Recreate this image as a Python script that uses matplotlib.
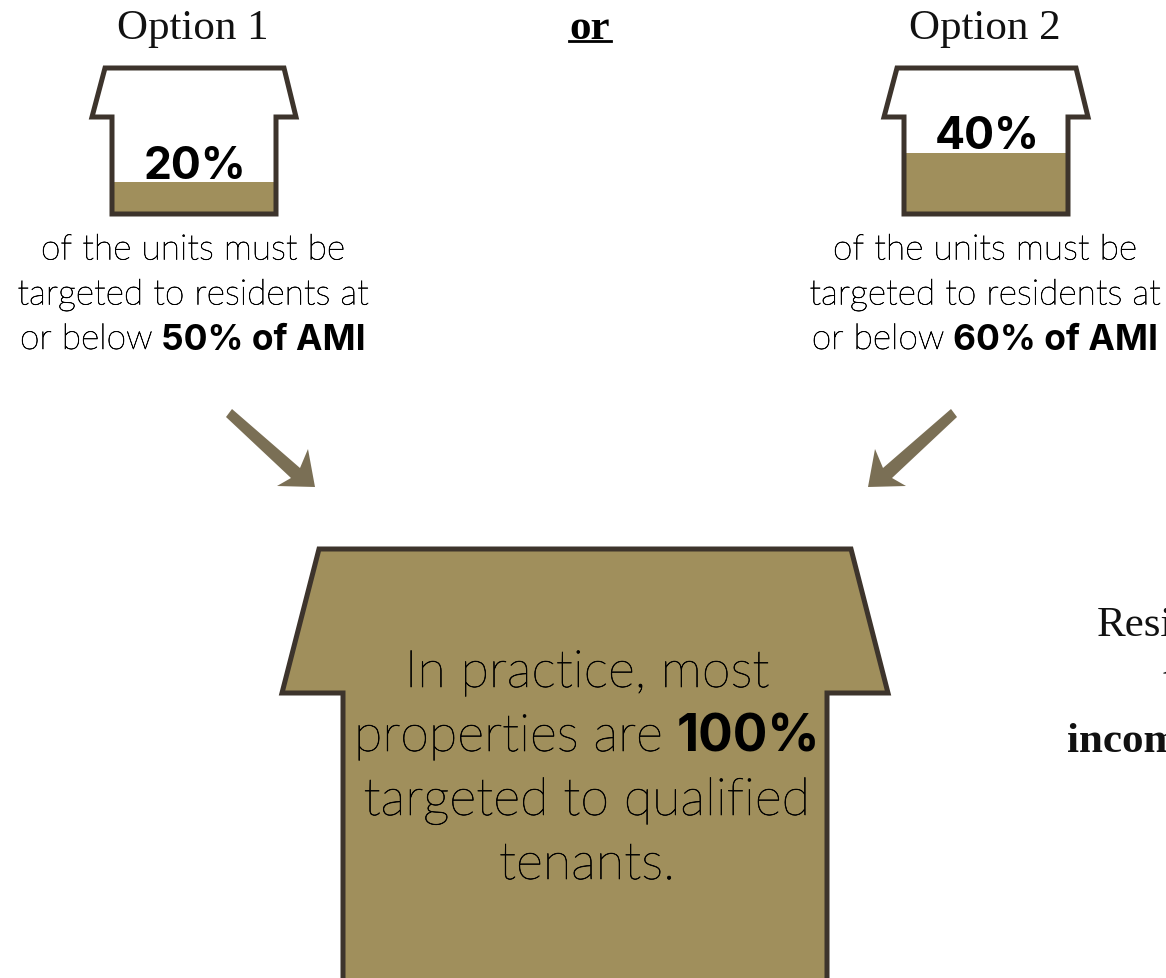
import matplotlib
matplotlib.use('Agg')
import matplotlib.pyplot as plt
import matplotlib.patheffects as pe
from matplotlib.patches import Polygon

option_labels = ['Option 1', 'Option 2']
option_shares = [20, 40]
ami_limits = ['50% of AMI', '60% of AMI']
big_share = 100
big_lines = [('In practice, most', ''), ('properties are ', '100%'), ('targeted to qualified', ''), ('tenants.', '')]
side_lines = [('Resi', 'normal'), ('t', 'normal'), ('incom', 'bold')]

FILL = '#A08F5C'
EDGE = '#3D342C'
ARROW = '#7A6F55'
SANS = 'Lato'
BOLD = 'Inter'
SERIF = 'Liberation Serif'

fig = plt.figure(figsize=(11.66, 9.79), dpi=100)
ax = fig.add_axes([0, 0, 1, 1])
ax.set_xlim(0, 1166)
ax.set_ylim(978, -1)
ax.axis('off')


def house_outline(top_l, top_r, eave_l, eave_r, body_l, body_r, top_y, eave_y, bottom_y):
    return [(top_l, top_y), (top_r, top_y), (eave_r, eave_y), (body_r, eave_y), (body_r, bottom_y),
            (body_l, bottom_y), (body_l, eave_y), (eave_l, eave_y)]


def mixed_line(x, y, light, bold, size, bold_size):
    # centred line with a light part followed by a bold part
    rend = fig.canvas.get_renderer()
    t1 = ax.text(x, y, light.rstrip(), fontsize=size, family=SANS, weight='light', va='baseline', color='black',
                 path_effects=[pe.withStroke(linewidth=0.45, foreground='black')])
    if not bold:
        t1.set_ha('center')
        return
    space = size * 0.36
    t2 = ax.text(x, y, bold, fontsize=bold_size, family=BOLD, weight='bold', va='baseline', color='black')
    w1 = t1.get_window_extent(rend).width
    w2 = t2.get_window_extent(rend).width
    left = x - (w1 + space + w2) / 2
    t1.set_x(left)
    t2.set_x(left + w1 + space)


for i in range(2):
    dx = 792 * i
    share = option_shares[i]
    ax.text(193 + dx, 38, option_labels[i], fontsize=31, family=SERIF, ha='center', va='baseline', color='#111111')
    ax.add_patch(Polygon([(112 + dx, 211.5 - share * 1.45), (276 + dx, 211.5 - share * 1.45), (276 + dx, 214), (112 + dx, 214)],
                         facecolor=FILL, edgecolor='none', zorder=1))
    ax.add_patch(Polygon(house_outline(105 + dx, 284 + dx, 92 + dx, 296 + dx, 112 + dx, 276 + dx, 68, 117, 214),
                         closed=True, facecolor='none', edgecolor=EDGE, linewidth=3.6, joinstyle='miter', zorder=2))
    ax.text(195 + dx, 178 - (i * 30), '%d%%' % share, fontsize=32, family=BOLD, weight='bold', ha='center', va='baseline', color='black', zorder=3)
    mixed_line(193 + dx, 259.5, 'of the units must be', '', 25.5, 25)
    mixed_line(193 + dx, 304.5, 'targeted to residents at', '', 25.5, 25)
    mixed_line(193 + dx, 349, 'or below ', ami_limits[i], 25.5, 25.5)

ax.text(590, 38, 'or', fontsize=31, family=SERIF, weight='bold', ha='center', va='baseline', color='black')
ax.plot([569, 611], [41, 41], color='black', linewidth=2)

# arrows, second one mirrored
arrow = [(232, 409), (226, 417), (291, 478), (277, 486), (315, 487), (308, 449), (300, 468)]
ax.add_patch(Polygon(arrow, facecolor=ARROW, edgecolor='none'))
ax.add_patch(Polygon([(1183 - x, y) for x, y in arrow], facecolor=ARROW, edgecolor='none'))

# big house runs off the bottom of the picture
ax.add_patch(Polygon(house_outline(319, 851, 282, 888, 343, 827, 549, 693, 1000),
                     closed=True, facecolor=FILL, edgecolor=EDGE, linewidth=3.6, joinstyle='miter'))
for i, (light, bold) in enumerate(big_lines):
    if bold == '100%':
        bold = '%d%%' % big_share
    mixed_line(587, 687 + 64 * i, light, bold, 37.5, 37)

side_x = [1097, 1163, 1067]
side_y = [635, 690, 751]
for (txt, w), x, y in zip(side_lines, side_x, side_y):
    ax.text(x, y, txt, fontsize=31, family=SERIF, weight=w, va='baseline', color='#111111', clip_on=True)

fig.savefig('out.png', dpi=100)
